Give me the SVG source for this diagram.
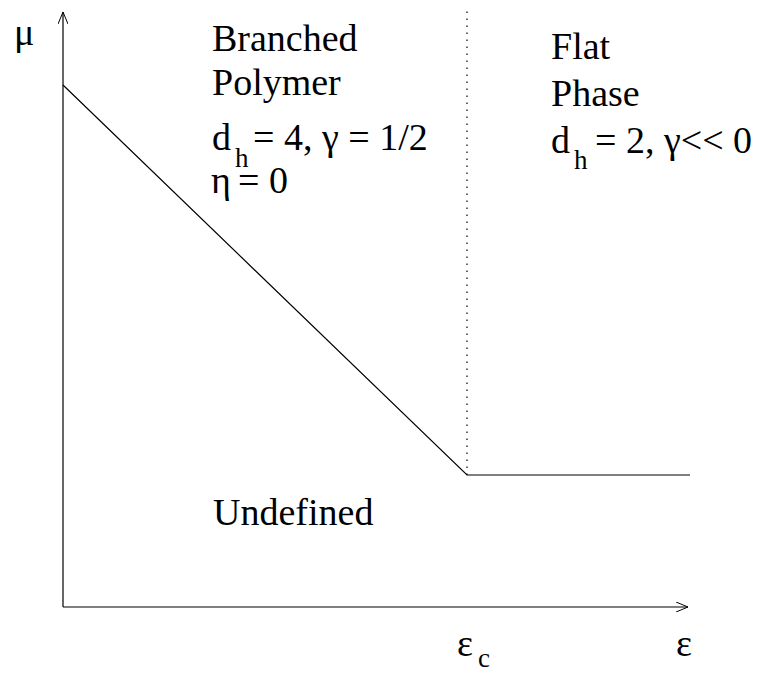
<svg xmlns="http://www.w3.org/2000/svg" width="759" height="684" viewBox="0 0 759 684">
<defs>
<marker id="arr" viewBox="0 0 12 10" refX="12" refY="5" markerWidth="12" markerHeight="10" markerUnits="userSpaceOnUse" orient="auto">
<path d="M0,0 L12,5 L0,10" fill="none" stroke="#000" stroke-width="1"/>
</marker>
</defs>
<rect width="759" height="684" fill="#fff"/>
<g id="connectors" stroke="#000" stroke-width="1.2" fill="none">
<line x1="63" y1="607" x2="63" y2="12" marker-end="url(#arr)"/>
<line x1="63" y1="607" x2="688" y2="607" marker-end="url(#arr)"/>
<polyline points="63,85 467,475 690,475"/>
<line x1="467" y1="475" x2="467" y2="10" stroke-dasharray="1.5,5.5"/>
</g>
<g id="axis-mu"><text font-family="Liberation Serif" font-size="38" x="14" y="45">&#956;</text></g>
<g id="axis-eps"><text font-family="Liberation Serif" font-size="38" x="676" y="656">&#949;</text></g>
<g id="eps-c"><text font-family="Liberation Serif" font-size="38" x="457" y="656">&#949;</text><text font-family="Liberation Serif" font-size="27" x="478" y="667">c</text></g>
<g id="branched">
<text font-family="Liberation Serif" font-size="38" x="212" y="51">Branched</text>
<text font-family="Liberation Serif" font-size="38" x="212" y="95">Polymer</text>
<text font-family="Liberation Serif" font-size="38" x="212" y="150">d</text><text font-family="Liberation Serif" font-size="27" x="235" y="167">h</text><text font-family="Liberation Serif" font-size="38" x="253" y="150">= 4, &#947; = 1/2</text>
<text font-family="Liberation Serif" font-size="38" x="211" y="193">&#951;</text><text font-family="Liberation Serif" font-size="38" x="238" y="193">= 0</text>
</g>
<g id="flat">
<text font-family="Liberation Serif" font-size="38" x="551" y="59">Flat</text>
<text font-family="Liberation Serif" font-size="38" x="551" y="106">Phase</text>
<text font-family="Liberation Serif" font-size="38" x="551" y="153">d</text><text font-family="Liberation Serif" font-size="27" x="574" y="169">h</text><text font-family="Liberation Serif" font-size="38" x="595" y="153">= 2, &#947;&lt;&lt; 0</text>
</g>
<g id="undefined"><text font-family="Liberation Serif" font-size="38" x="213" y="525">Undefined</text></g>
</svg>
